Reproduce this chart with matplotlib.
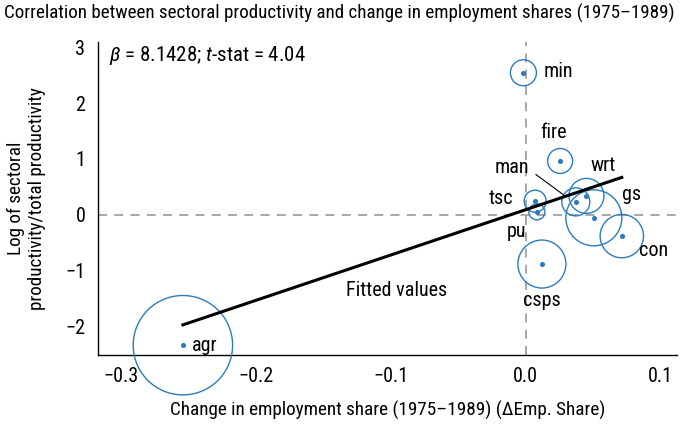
import numpy as np
import matplotlib.pyplot as plt

plt.rcParams['font.family'] = ['Roboto Condensed', 'DejaVu Sans']
plt.rcParams['mathtext.fontset'] = 'custom'
plt.rcParams['mathtext.rm'] = 'Roboto Condensed'
plt.rcParams['mathtext.it'] = 'Roboto Condensed:italic'

sectors = ["agr", "min", "fire", "tsc", "pu", "man", "wrt", "gs", "con", "csps"]
d_emp_share = [-0.2541, -0.0018, 0.0254, 0.0069, 0.0082, 0.0370, 0.0449, 0.0504, 0.0711, 0.0119]
log_rel_prod = [-2.344, 2.548, 0.964, 0.242, 0.050, 0.229, 0.337, -0.057, -0.385, -0.887]
weights = [24.7, 1.69, 1.56, 1.21, 0.64, 1.96, 3.06, 7.84, 4.71, 5.76]

beta = 8.1428
t_stat = 4.04
intercept = 0.09

blue = "#2b7bc0"
fs = 14.5

fig = plt.figure(figsize=(6.8, 4.29), dpi=100)
ax = fig.add_axes([98 / 680, 74 / 429, 579 / 680, 313 / 429])

x = np.array(d_emp_share)
y = np.array(log_rel_prod)
w = np.array(weights)

ax.axhline(0, color="#a0a0a0", lw=1.3, ls=(0, (5, 4)), zorder=1)
ax.axvline(0, color="#a0a0a0", lw=1.3, ls=(0, (5, 4)), zorder=1)

# bubbles scaled by sector weight, plus centre dots
ax.scatter(x, y, s=w * 100 * 0.72 ** 2 * 4, facecolors="none",
           edgecolors=blue, linewidths=1.0, zorder=3, clip_on=False)
ax.scatter(x, y, s=7, color=blue, zorder=4, clip_on=False)

xf = np.array([x.min(), x.max()])
ax.plot(xf, intercept + beta * xf, color="black", lw=2.2, zorder=5)

offsets = {
    "agr": (0.007, 0.0, "left"),
    "min": (0.015, 0.02, "left"),
    "fire": (-0.005, 0.52, "center"),
    "tsc": (-0.025, 0.04, "center"),
    "pu": (-0.015, -0.35, "center"),
    "man": (-0.047, 0.62, "center"),
    "wrt": (0.012, 0.55, "center"),
    "gs": (0.028, 0.42, "center"),
    "con": (0.0235, -0.26, "center"),
    "csps": (0.0, -0.66, "center"),
}
for name, xi, yi in zip(sectors, x, y):
    dx, dy, ha = offsets[name]
    ax.text(xi + dx, yi + dy, name, ha=ha, va="center", fontsize=fs, zorder=6)

# leader line for the manufacturing label
ax.plot([0.0075, 0.0277], [0.72, 0.36], color="black", lw=0.8, zorder=6)

ax.text(-0.096, -1.37, "Fitted values", ha="center", va="center", fontsize=fs)
ax.text(-0.309, 2.86, rf"$\beta$ = {beta:.4f}; $t$-stat = {t_stat:.2f}",
        ha="left", va="center", fontsize=fs + 0.5)

ax.set_xlim(-0.317, 0.112)
ax.set_ylim(-2.52, 3.10)
ax.set_xticks([-0.3, -0.2, -0.1, 0.0, 0.1])
ax.set_xticklabels(["\u22120.3", "\u22120.2", "\u22120.1", "0.0", "0.1"])
ax.set_yticks([-2, -1, 0, 1, 2, 3])
ax.set_yticklabels(["\u22122", "\u22121", "0", "1", "2", "3"])
ax.tick_params(length=0, labelsize=fs, pad=9)
ax.spines["top"].set_visible(False)
ax.spines["right"].set_visible(False)
for s in ("left", "bottom"):
    ax.spines[s].set_linewidth(1.0)

ax.set_xlabel("Change in employment share (1975\u20131989) (\u0394Emp. Share)", fontsize=13.8, labelpad=10)
ax.set_ylabel("Log of sectoral\nproductivity/total productivity", fontsize=13.8, labelpad=14)

fig.text(4 / 680, 1 - 13 / 429, "Correlation between sectoral productivity and change in employment shares (1975\u20131989)",
         ha="left", va="center", fontsize=13.7)

fig.savefig("out.png", dpi=100)
